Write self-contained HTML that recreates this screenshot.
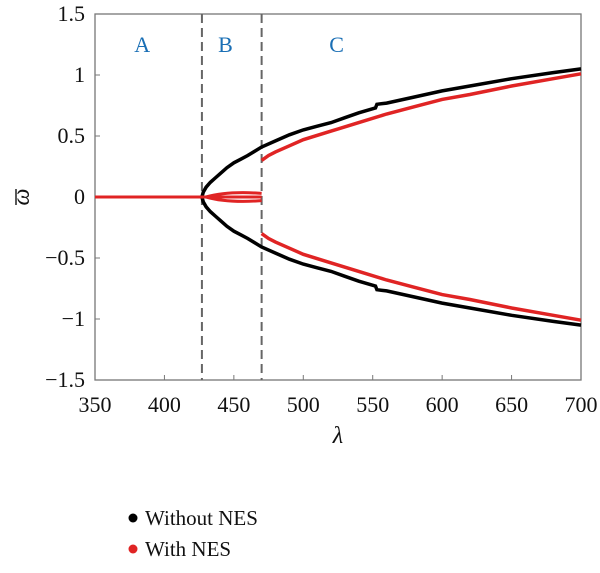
<!DOCTYPE html>
<html><head><meta charset="utf-8"><style>
body{margin:0;background:#fff;width:600px;height:568px;overflow:hidden}
svg text{font-family:"Liberation Serif",serif}
</style></head><body>
<svg id="chart" width="600" height="568" xmlns="http://www.w3.org/2000/svg">
<g id="grid"></g>
<g id="series"></g>
</svg>
<script>
const xTicks=[350,400,450,500,550,600,650,700];
const yTicks=[1.5,1,0.5,0,-0.5,-1,-1.5];
const yTickLabels=["1.5","1","0.5","0","\u22120.5","\u22121","\u22121.5"];
const blackLam=[427,428,430,433,437,440,445,450,455,460,470,480,490,500,510,520,530,540,552,553,560,580,600,620,650,680,700];
const blackVal=[0,0.04,0.08,0.12,0.16,0.19,0.24,0.28,0.31,0.34,0.41,0.46,0.51,0.55,0.58,0.61,0.65,0.69,0.73,0.76,0.77,0.82,0.87,0.91,0.97,1.02,1.05];
const redLam=[470,475,480,490,500,520,540,560,580,600,620,650,680,700];
const redVal=[0.3,0.34,0.37,0.42,0.47,0.54,0.61,0.68,0.74,0.8,0.84,0.91,0.97,1.01];
const dashedLam=[427,470];
const regionLabels=["A","B","C"];
const regionLam=[384,444,524];

const NS="http://www.w3.org/2000/svg";
const X0=95,X1=581,Y0=14,Y1=380;
const sx=v=>X0+(v-350)/350*(X1-X0);
const sy=v=>Y0+(1.5-v)/3*(Y1-Y0);
const svg=document.getElementById('chart');
const g=document.getElementById('grid'), s=document.getElementById('series');
function mk(tag,attrs,parent,txt){const e=document.createElementNS(NS,tag);for(const k in attrs)e.setAttribute(k,attrs[k]);if(txt!==undefined)e.textContent=txt;parent.appendChild(e);return e;}
let r=mk('rect',{x:X0,y:Y0,width:X1-X0,height:Y1-Y0,fill:'none',stroke:'#777','stroke-width':1.3},g);


xTicks.forEach(v=>{
 let t=mk('line',{x1:sx(v),x2:sx(v),y1:Y1,y2:Y1-5,stroke:'#777'},g);
 
 
 let l=mk('text',{x:sx(v),y:Y1+32,'text-anchor':'middle','font-size':22,fill:'#111'},g,String(v));
 
 
});
yTicks.forEach((v,i)=>{
 let t=mk('line',{x1:X0,x2:X0+5,y1:sy(v),y2:sy(v),stroke:'#777'},g);
 
 
 let l=mk('text',{x:X0-10,y:sy(v)+7,'text-anchor':'end','font-size':22,fill:'#111'},g,yTickLabels[i]);
 
 
});
dashedLam.forEach(v=>{
 let d=mk('line',{x1:sx(v),x2:sx(v),y1:Y0,y2:Y1,stroke:'#666','stroke-width':2,'stroke-dasharray':'9,5'},g);
 
 
});
regionLabels.forEach((t,i)=>{
 let l=mk('text',{x:sx(regionLam[i]),y:52,'text-anchor':'middle','font-size':22,fill:'#1a6fb5'},g,t);
 
 
});
let xl=mk('text',{x:338,y:443,'text-anchor':'middle','font-size':24,'font-style':'italic',fill:'#111'},g,'λ');


let yg=mk('g',{transform:'translate(29,197) rotate(-90)'},g);


mk('text',{x:0,y:0,'text-anchor':'middle','font-size':24,'font-style':'italic',fill:'#111'},yg,'ω');
mk('line',{x1:0,x2:0,y1:-21,y2:-5,stroke:'#111','stroke-width':1.4,transform:'rotate(90 0 -13)'},yg);
function path(lams,vals,sign){return lams.map((l,i)=>(i?'L':'M')+sx(l).toFixed(1)+','+sy(sign*vals[i]).toFixed(1)).join('');}
[1,-1].forEach(sg=>{
 let p=mk('path',{d:path(blackLam,blackVal,sg),fill:'none',stroke:'#000','stroke-width':3.5},s);
 
 
 let q=mk('path',{d:path(redLam,redVal,sg),fill:'none',stroke:'#e02424','stroke-width':3.5},s);
 
 
});
let z=mk('line',{x1:sx(350),x2:sx(470),y1:sy(0),y2:sy(0),stroke:'#e02424','stroke-width':3},s);


let f=mk('path',{d:`M${sx(430)},${sy(0)} Q${sx(445)},${sy(0.05)} ${sx(470)},${sy(0.03)} M${sx(430)},${sy(0)} Q${sx(445)},${sy(-0.05)} ${sx(470)},${sy(-0.03)}`,fill:'none',stroke:'#e02424','stroke-width':3},s);


[['Without NES','#000',518],['With NES','#e02424',549]].forEach(([t,c,y])=>{
 let gg=mk('g',{},svg);
 
 
 mk('circle',{cx:133,cy:y,r:4.5,fill:c},gg);
 mk('text',{x:145,y:y+7,'font-size':21,fill:'#111'},gg,t);
});
</script>
</body></html>
